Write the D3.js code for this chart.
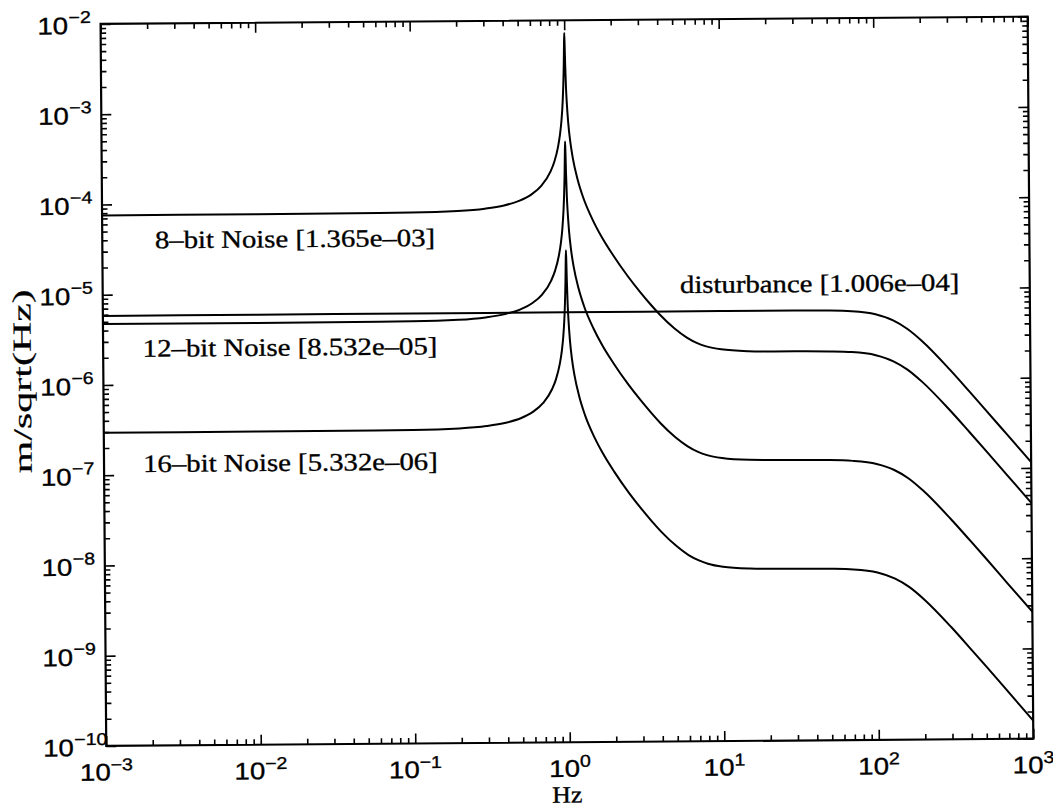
<!DOCTYPE html>
<html>
<head>
<meta charset="utf-8">
<script src="https://cdn.jsdelivr.net/npm/d3@7"></script>
<style>
  body { margin: 0; background: #fff; }
  svg { display: block; }
</style>
</head>
<body>
<svg id="chart" width="1053" height="808"></svg>
<script>
// Frequency grid (Hz) shared by the three quantisation-noise spectra
const noiseFreq = [0.001, 0.01, 0.1, 0.2, 0.3, 0.4, 0.5, 0.6, 0.7, 0.8,
  0.85, 0.9, 0.93, 0.95, 0.97, 0.98, 0.99, 0.995, 1.0, 1.005,
  1.01, 1.02, 1.03, 1.05, 1.08, 1.12, 1.2, 1.3, 1.5, 1.7,
  2, 2.5, 3, 3.5, 4, 5, 6, 7, 8, 10,
  15, 20, 30, 50, 70, 100, 130, 160, 200, 300,
  400, 500, 700, 1000];

// Amplitude spectral densities, m/sqrt(Hz)
const noise8bit = [7.55e-5, 7.55e-5, 7.63e-5, 7.86e-5, 8.30e-5, 8.99e-5, 1.007e-4, 1.18e-4, 1.48e-4, 2.10e-4,
  2.72e-4, 3.97e-4, 5.59e-4, 7.74e-4, 1.28e-3, 1.91e-3, 3.37e-3, 5.25e-3, 7.25e-3, 5.21e-3,
  3.33e-3, 1.81e-3, 1.24e-3, 7.37e-4, 4.54e-4, 2.97e-4, 1.72e-4, 1.09e-4, 6.04e-5, 3.99e-5,
  2.53e-5, 1.45e-5, 9.66e-6, 7.02e-6, 5.43e-6, 3.76e-6, 2.98e-6, 2.58e-6, 2.37e-6, 2.19e-6,
  2.08e-6, 2.06e-6, 2.05e-6, 2.03e-6, 1.99e-6, 1.83e-6, 1.56e-6, 1.26e-6, 9.12e-7, 4.42e-7,
  2.53e-7, 1.63e-7, 8.31e-8, 4.08e-8];

const noise12bit = [4.72e-6, 4.72e-6, 4.77e-6, 4.91e-6, 5.19e-6, 5.62e-6, 6.29e-6, 7.38e-6, 9.25e-6, 1.31e-5,
  1.70e-5, 2.48e-5, 3.49e-5, 4.84e-5, 8.0e-5, 1.19e-4, 2.11e-4, 3.28e-4, 4.53e-4, 3.26e-4,
  2.08e-4, 1.13e-4, 7.75e-5, 4.61e-5, 2.84e-5, 1.86e-5, 1.075e-5, 6.81e-6, 3.78e-6, 2.49e-6,
  1.58e-6, 9.06e-7, 6.04e-7, 4.39e-7, 3.39e-7, 2.35e-7, 1.86e-7, 1.61e-7, 1.48e-7, 1.37e-7,
  1.30e-7, 1.29e-7, 1.28e-7, 1.27e-7, 1.24e-7, 1.14e-7, 9.75e-8, 7.88e-8, 5.70e-8, 2.76e-8,
  1.58e-8, 1.02e-8, 5.19e-9, 2.55e-9];

const noise16bit = [2.95e-7, 2.95e-7, 2.98e-7, 3.07e-7, 3.24e-7, 3.51e-7, 3.93e-7, 4.61e-7, 5.78e-7, 8.19e-7,
  1.06e-6, 1.55e-6, 2.18e-6, 3.02e-6, 5.0e-6, 7.46e-6, 1.32e-5, 2.05e-5, 2.83e-5, 2.04e-5,
  1.30e-5, 7.07e-6, 4.84e-6, 2.88e-6, 1.77e-6, 1.16e-6, 6.72e-7, 4.26e-7, 2.36e-7, 1.56e-7,
  9.88e-8, 5.66e-8, 3.77e-8, 2.74e-8, 2.12e-8, 1.47e-8, 1.16e-8, 1.01e-8, 9.26e-9, 8.55e-9,
  8.13e-9, 8.05e-9, 8.01e-9, 7.93e-9, 7.77e-9, 7.15e-9, 6.09e-9, 4.92e-9, 3.56e-9, 1.73e-9,
  9.88e-10, 6.37e-10, 3.25e-10, 1.59e-10];

// Disturbance spectrum
const distFreq = [0.001, 0.01, 0.1, 1, 10, 30, 50, 70, 100, 130, 160, 200, 300, 400, 500, 700, 1000];
const disturbance = [5.82e-6, 5.82e-6, 5.82e-6, 5.82e-6, 5.82e-6, 5.82e-6, 5.77e-6, 5.65e-6, 5.20e-6,
  4.43e-6, 3.57e-6, 2.59e-6, 1.255e-6, 7.18e-7, 4.62e-7, 2.36e-7, 1.157e-7];

// Curve annotations (RMS values)
const labels8 = "8\u2013bit Noise [1.365e\u201303]";
const labels12 = "12\u2013bit Noise [8.532e\u201305]";
const labels16 = "16\u2013bit Noise [5.332e\u201306]";
const labelsDist = "disturbance [1.006e\u201304]";

// Decade exponents for tick labels
const xTickExponents = [-3, -2, -1, 0, 1, 2, 3];
const yTickExponents = [-10, -9, -8, -7, -6, -5, -4, -3, -2];

const xLabel = "Hz";
const yLabel = "m/sqrt(Hz)";

// ---------------------------------------------------------------------------
const plot = { left: 103.4, right: 1030.5, top: 20.3, bottom: 742.3 };
const textStretch = 1.15;
const serif = "'Liberation Serif', 'Times New Roman', serif";
const sans = "'Liberation Sans', Arial, Helvetica, sans-serif";

const svg = d3.select("#chart");
svg.append("rect").attr("width", 1053).attr("height", 808).attr("fill", "#fff");
const root = svg.append("g").attr("transform", "rotate(-0.45,567,381)");

const x = d3.scaleLog().domain([1e-3, 1e3]).range([plot.left, plot.right]);
const y = d3.scaleLog().domain([1e-10, 1e-2]).range([plot.bottom, plot.top]);

function minorTicks(lo, hi) {
  const out = [];
  for (let e = lo; e < hi; e++) for (let m = 2; m <= 9; m++) out.push(m * Math.pow(10, e));
  return out;
}
const xMajor = xTickExponents.map(e => Math.pow(10, e));
const yMajor = yTickExponents.map(e => Math.pow(10, e));
const xMinor = minorTicks(-3, 3);
const yMinor = minorTicks(-10, -2);

// Inward ticks on all four sides
function tickRow(axisFn, scale, values, size, transform) {
  const g = root.append("g")
    .attr("transform", transform)
    .call(axisFn(scale).tickValues(values).tickSize(size).tickFormat(""));
  g.select(".domain").remove();
  g.selectAll(".tick line").attr("stroke", "#000").attr("stroke-width", 1.6);
  g.selectAll(".tick text").remove();
}
tickRow(d3.axisBottom, x, xMinor, -5.5, `translate(0,${plot.bottom})`);
tickRow(d3.axisBottom, x, xMajor, -10, `translate(0,${plot.bottom})`);
tickRow(d3.axisTop, x, xMinor, -5.5, `translate(0,${plot.top})`);
tickRow(d3.axisTop, x, xMajor, -10, `translate(0,${plot.top})`);
tickRow(d3.axisLeft, y, yMinor, -5.5, `translate(${plot.left},0)`);
tickRow(d3.axisLeft, y, yMajor, -10, `translate(${plot.left},0)`);
tickRow(d3.axisRight, y, yMinor, -5.5, `translate(${plot.right},0)`);
tickRow(d3.axisRight, y, yMajor, -10, `translate(${plot.right},0)`);

// Frame
root.append("rect")
  .attr("x", plot.left).attr("y", plot.top)
  .attr("width", plot.right - plot.left).attr("height", plot.bottom - plot.top)
  .attr("fill", "none").attr("stroke", "#000").attr("stroke-width", 2.2);

// Spectra
root.append("clipPath").attr("id", "plotClip").append("rect")
  .attr("x", plot.left).attr("y", plot.top)
  .attr("width", plot.right - plot.left).attr("height", plot.bottom - plot.top);

const line = d3.line().x(d => x(d[0])).y(d => y(d[1])).curve(d3.curveMonotoneX);
const series = [
  d3.zip(noiseFreq, noise8bit),
  d3.zip(noiseFreq, noise12bit),
  d3.zip(noiseFreq, noise16bit),
  d3.zip(distFreq, disturbance)
];
root.append("g").attr("clip-path", "url(#plotClip)")
  .selectAll("path").data(series).join("path")
  .attr("d", line)
  .attr("fill", "none").attr("stroke", "#000")
  .attr("stroke-width", 2).attr("stroke-linejoin", "round");

// Text helper: horizontally widened, slightly heavy glyphs
function label(parent, px, py, str, opts) {
  const t = parent.append("text")
    .attr("transform", `translate(${px},${py})${opts.rotate ? ` rotate(${opts.rotate})` : ""} scale(${opts.sx || textStretch},${opts.sy || 1})`)
    .attr("font-family", opts.family || serif)
    .attr("font-size", opts.size || 25)
    .attr("text-anchor", opts.anchor || "start")
    .attr("fill", "#000")
    .attr("stroke", "#000")
    .attr("stroke-width", opts.weight != null ? opts.weight : 0.35)
    .text(str);
  return t;
}

// Curve annotations
label(root, 156, 245, labels8, {});
label(root, 143, 353.4, labels12, {});
label(root, 142.5, 468.7, labels16, {});
label(root, 680.7, 293.9, labelsDist, {});

// Tick labels with superscript exponents
const expStr = e => (e < 0 ? "\u2212" : "") + Math.abs(e);
xTickExponents.forEach(e => {
  const t = label(root, x(Math.pow(10, e)), plot.bottom + 34.5, "", { family: sans, size: 24, anchor: "middle" });
  t.append("tspan").text("10");
  t.append("tspan").attr("font-size", 17).attr("dy", -10).text(expStr(e));
});
yTickExponents.forEach(e => {
  const py = y(Math.pow(10, e)) + 10;
  label(root, plot.left - 32.5, py, "10", { family: sans, size: 24, anchor: "end" });
  label(root, plot.left - 32, py - 11, expStr(e), { family: sans, size: 17, anchor: "start" });
});

// Axis titles
label(root, 564, 802.6, xLabel, { anchor: "middle", size: 23.5, sx: 1.1 });
label(root, 31, 377, yLabel, { anchor: "middle", rotate: -90, size: 26, sx: 1, sy: 1, weight: 0.2 })
  .attr("textLength", 184).attr("lengthAdjust", "spacingAndGlyphs");
</script>
</body>
</html>
